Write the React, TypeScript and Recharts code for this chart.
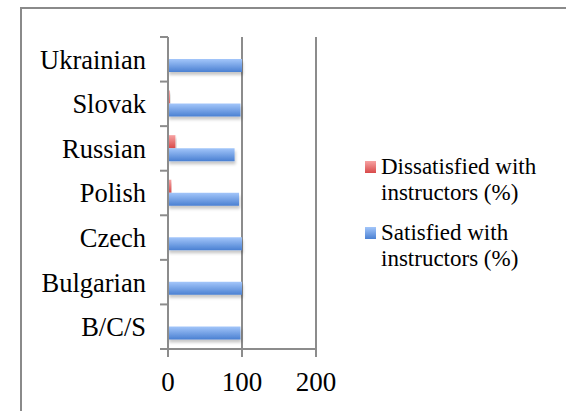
import React from 'react';
import { BarChart, Bar, XAxis, YAxis, CartesianGrid } from 'recharts';

const groups = ['Ukrainian', 'Slovak', 'Russian', 'Polish', 'Czech', 'Bulgarian', 'B/C/S'];
const dissatisfied = [0, 2.5, 10, 4.5, 0, 0, 1];
const satisfied = [100, 98, 90, 96, 100, 100, 98];
const xTicks = [0, 100, 200];

const seriesNames = ['Dissatisfied with instructors (%)', 'Satisfied with instructors (%)'];

const data = groups.map((g, i) => ({
    name: g,
    dis: dissatisfied[i],
    sat: satisfied[i],
}));

const FONT = "'Liberation Serif', 'Times New Roman', serif";
const AXIS = '#8c8c8c';
const PLOT_TOP = 37;
const PLOT_BOTTOM = 349;
const TICK_SIZE = 8;
const TICK_MARGIN = 14;
const HALF_BAND = (PLOT_BOTTOM - PLOT_TOP) / groups.length / 2;

// category ticks sit on the band edges, like the original spreadsheet chart
const CategoryTick = (props: any) => {
    const { x, y, payload, index } = props;
    const lx = x + TICK_MARGIN;
    return (
        <g>
            <line x1={lx} x2={lx + TICK_SIZE} y1={y - HALF_BAND} y2={y - HALF_BAND} stroke={AXIS} strokeWidth={2} />
            {index === groups.length - 1 && (
                <line x1={lx} x2={lx + TICK_SIZE} y1={y + HALF_BAND} y2={y + HALF_BAND} stroke={AXIS} strokeWidth={2} />
            )}
            <text x={x} y={y} dy="0.355em" textAnchor="end" fill="#000" fontSize={26.5} fontFamily={FONT}>
                {payload.value}
            </text>
        </g>
    );
};

const legendItems = [
    { name: seriesNames[0], top: '#f7a3a3', bottom: '#d84a4a' },
    { name: seriesNames[1], top: '#a3c6fa', bottom: '#4a80d2' },
];

export default function App() {
    return (
        <div style={{ position: 'relative', width: 566, height: 411, overflow: 'hidden', background: '#fff' }}>
            <style>{'body{margin:0}'}</style>
            {/* frame */}
            <div style={{
                position: 'absolute', left: 20, top: 7, width: 560, height: 420,
                borderLeft: '2px solid #8a8a8a', borderTop: '2px solid #8a8a8a',
            }} />
            <div style={{ position: 'absolute', left: 0, top: 0 }}>
                <BarChart
                    width={566}
                    height={411}
                    data={data}
                    layout="vertical"
                    margin={{ top: PLOT_TOP, right: 250, bottom: 22, left: 0 }}
                    barGap={0}
                    barSize={13}
                >
                    <defs>
                        <linearGradient id="blueGrad" x1="0" y1="0" x2="0" y2="1">
                            <stop offset="0%" stopColor="#a3c6fa" />
                            <stop offset="100%" stopColor="#4a80d2" />
                        </linearGradient>
                        <linearGradient id="redGrad" x1="0" y1="0" x2="0" y2="1">
                            <stop offset="0%" stopColor="#f7a3a3" />
                            <stop offset="100%" stopColor="#d84a4a" />
                        </linearGradient>
                        <filter id="barShadow" x="-10%" y="-30%" width="120%" height="180%">
                            <feDropShadow dx="1" dy="3" stdDeviation="1.5" floodColor="#000" floodOpacity="0.22" />
                        </filter>
                    </defs>
                    <CartesianGrid horizontal={false} stroke={AXIS} strokeWidth={2} />
                    <XAxis
                        type="number"
                        domain={[0, 200]}
                        ticks={xTicks}
                        height={40}
                        axisLine={{ stroke: AXIS, strokeWidth: 2 }}
                        tickLine={{ stroke: AXIS, strokeWidth: 2 }}
                        tickSize={TICK_SIZE}
                        tickMargin={15}
                        tick={{ fill: '#000', fontSize: 27, fontFamily: FONT }}
                    />
                    <YAxis
                        type="category"
                        dataKey="name"
                        width={168}
                        axisLine={{ stroke: AXIS, strokeWidth: 2 }}
                        tickLine={false}
                        tickSize={TICK_SIZE}
                        tickMargin={TICK_MARGIN}
                        tick={<CategoryTick />}
                        interval={0}
                    />
                    <Bar dataKey="dis" name={seriesNames[0]} fill="url(#redGrad)" filter="url(#barShadow)" isAnimationActive={false} />
                    <Bar dataKey="sat" name={seriesNames[1]} fill="url(#blueGrad)" filter="url(#barShadow)" isAnimationActive={false} />
                </BarChart>
            </div>
            {/* legend */}
            <div style={{
                position: 'absolute', left: 365, top: 154, width: 195,
                fontFamily: FONT, fontSize: 23, lineHeight: '26px', color: '#000',
            }}>
                {legendItems.map((it, i) => (
                    <div key={i} style={{ position: 'relative', paddingLeft: 16, width: 175, marginBottom: 14 }}>
                        <span style={{
                            position: 'absolute', left: 0, top: 7, width: 11, height: 12,
                            background: `linear-gradient(${it.top}, ${it.bottom})`,
                        }} />
                        {it.name}
                    </div>
                ))}
            </div>
        </div>
    );
}
